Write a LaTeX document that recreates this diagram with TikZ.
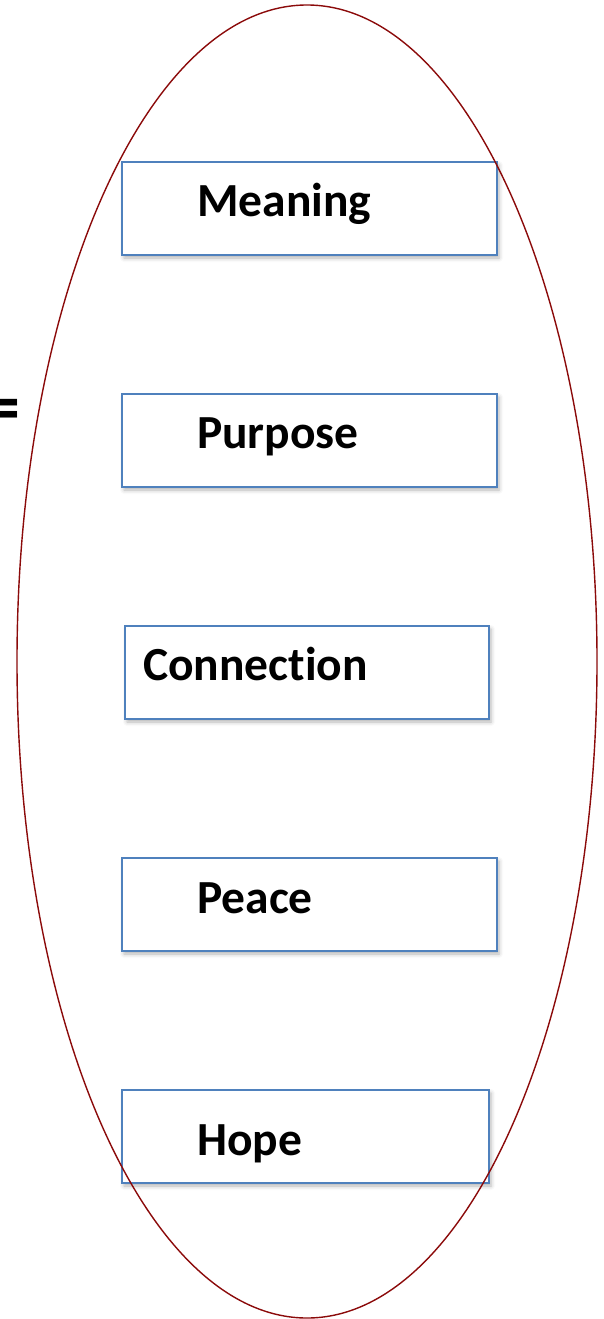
\documentclass[tikz,border=0pt]{standalone}
\usepackage{fontspec}
\setmainfont{Carlito}[RawFeature=-liga]
\usetikzlibrary{shadows.blur}
\definecolor{boxblue}{HTML}{4F81BD}
\definecolor{ringred}{HTML}{8B0A0A}
\tikzset{
  itembox/.style={draw=boxblue, line width=1.6pt, fill=white,
    minimum height=93pt, inner sep=0pt,
    blur shadow={shadow xshift=2pt, shadow yshift=-3pt, shadow blur radius=4pt, shadow opacity=30}},
  itemlabel/.style={anchor=base west, inner sep=0pt,
    font=\fontsize{47.5}{52}\selectfont\bfseries},
  ring/.style={draw=ringred, line width=1.4pt}
}
\begin{document}
\begin{tikzpicture}[x=1pt,y=-1pt]
\useasboundingbox (0,0) rectangle (603,1319);
% equals sign at the left edge
\node[anchor=base west, inner sep=0pt, font=\fontsize{72}{76}\selectfont\bfseries] (eq) at (-16,431.5) {=};
% boxes
\node[itembox, minimum width=375pt] (meaning) at (309.5,208.5) {};
\node[itembox, minimum width=375pt] (purpose) at (309.5,440.5) {};
\node[itembox, minimum width=364pt] (connection) at (307,672.5) {};
\node[itembox, minimum width=375pt] (peace) at (309.5,904.5) {};
\node[itembox, minimum width=367pt] (hope) at (305.5,1136.5) {};
% labels
\node[itemlabel] (tmeaning) at (197,216) {Meaning};
\node[itemlabel] (tpurpose) at (197,448) {Purpose};
\node[itemlabel] (tconnection) at (143,680) {Connection};
\node[itemlabel] (tpeace) at (197,913) {Peace};
\node[itemlabel] (thope) at (197,1155) {Hope};
% enclosing ellipse
\draw[ring] (307,661.5) ellipse [x radius=290, y radius=656.5];
\end{tikzpicture}
\end{document}
